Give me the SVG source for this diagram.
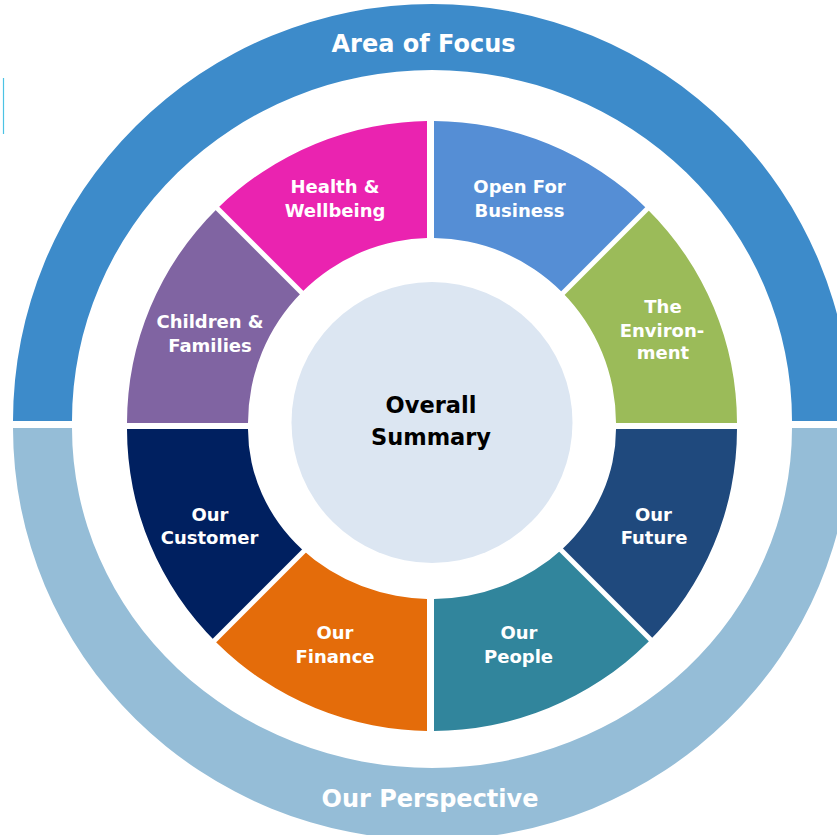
<svg xmlns="http://www.w3.org/2000/svg" xmlns:xlink="http://www.w3.org/1999/xlink" width="837" height="835" viewBox="0 0 837 835">
  <style>
    .lbl { font-family: "DejaVu Sans", Verdana, sans-serif; font-weight: bold; fill: #ffffff; text-anchor: middle; }
    .seg { font-size: 18px; }
    .band { font-size: 24px; }
    .center { font-family: "DejaVu Sans", Verdana, sans-serif; font-weight: bold; fill: #000000; text-anchor: middle; font-size: 22.5px; }
  </style>
  <defs>
    <path id="topRing" d="M 127 423 A 305 302 0 0 1 737 423 L 616 423 A 184 185 0 0 0 248 423 Z"/>
    <path id="botRing" d="M 127 429 A 305 302 0 0 0 737 429 L 616 429 A 184 170 0 0 1 248 429 Z"/>
    <clipPath id="c-health"><polygon points="427,414.5 -20,-32.5 427,-32.5"/></clipPath>
    <clipPath id="c-children"><polygon points="0,-5.5 428.5,423 0,423"/></clipPath>
    <clipPath id="c-business"><polygon points="434,418.5 434,-20 872.5,-20"/></clipPath>
    <clipPath id="c-environment"><polygon points="436.5,423 900,-40.5 900,423"/></clipPath>
    <clipPath id="c-customer"><polygon points="0,429 422.5,429 0,851.5"/></clipPath>
    <clipPath id="c-finance"><polygon points="427,431.5 427,900 -41.5,900"/></clipPath>
    <clipPath id="c-future"><polygon points="443.5,429 900,429 900,885.5"/></clipPath>
    <clipPath id="c-people"><polygon points="434,426.5 934,926.5 434,926.5"/></clipPath>
  </defs>

  <rect x="0" y="0" width="837" height="835" fill="#ffffff"/>
  <line x1="3.5" y1="78" x2="3.5" y2="134" stroke="#4cc3e4" stroke-width="1.2"/>

  <g id="area-of-focus">
    <path d="M 13 421 A 419 417 0 0 1 851 421 L 792 421 A 360 351 0 0 0 72 421 Z" fill="#3d8bca"/>
    <text class="lbl band" x="423.5" y="52">Area of Focus</text>
  </g>

  <g id="our-perspective">
    <path d="M 13 428 A 419 412 0 0 0 851 428 L 792 428 A 360 340 0 0 1 72 428 Z" fill="#95bdd7"/>
    <text class="lbl band" x="430" y="807">Our Perspective</text>
  </g>

  <g id="health-wellbeing">
    <use xlink:href="#topRing" fill="#ea23b0" clip-path="url(#c-health)"/>
    <text class="lbl seg" x="335" y="193">Health &amp;</text>
    <text class="lbl seg" x="335" y="217">Wellbeing</text>
  </g>

  <g id="open-for-business">
    <use xlink:href="#topRing" fill="#558ed5" clip-path="url(#c-business)"/>
    <text class="lbl seg" x="519.5" y="193">Open For</text>
    <text class="lbl seg" x="519.5" y="217">Business</text>
  </g>

  <g id="children-families">
    <use xlink:href="#topRing" fill="#8064a2" clip-path="url(#c-children)"/>
    <text class="lbl seg" x="210" y="328">Children &amp;</text>
    <text class="lbl seg" x="210" y="352">Families</text>
  </g>

  <g id="the-environment">
    <use xlink:href="#topRing" fill="#9bbb59" clip-path="url(#c-environment)"/>
    <text class="lbl seg" x="663" y="313">The</text>
    <text class="lbl seg" x="662" y="337">Environ-</text>
    <text class="lbl seg" x="663" y="359">ment</text>
  </g>

  <g id="our-customer">
    <use xlink:href="#botRing" fill="#002060" clip-path="url(#c-customer)"/>
    <text class="lbl seg" x="210" y="521">Our</text>
    <text class="lbl seg" x="209.5" y="544">Customer</text>
  </g>

  <g id="our-future">
    <use xlink:href="#botRing" fill="#1f497d" clip-path="url(#c-future)"/>
    <text class="lbl seg" x="653.5" y="521">Our</text>
    <text class="lbl seg" x="654" y="544">Future</text>
  </g>

  <g id="our-finance">
    <use xlink:href="#botRing" fill="#e46c0a" clip-path="url(#c-finance)"/>
    <text class="lbl seg" x="335" y="639">Our</text>
    <text class="lbl seg" x="335" y="663">Finance</text>
  </g>

  <g id="our-people">
    <use xlink:href="#botRing" fill="#31859c" clip-path="url(#c-people)"/>
    <text class="lbl seg" x="519" y="639">Our</text>
    <text class="lbl seg" x="518.5" y="663">People</text>
  </g>

  <g id="overall-summary">
    <circle cx="432" cy="422.5" r="140.5" fill="#dce6f2"/>
    <text class="center" x="431" y="413">Overall</text>
    <text class="center" x="431" y="445">Summary</text>
  </g>

  <g id="connectors"></g>
</svg>
